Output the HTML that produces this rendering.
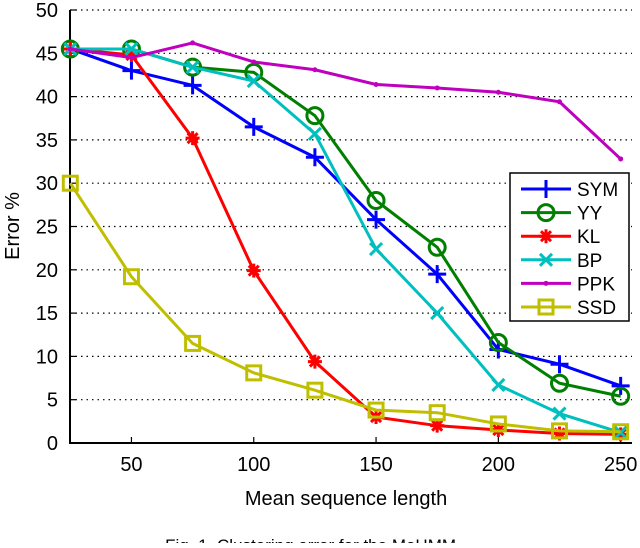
<!DOCTYPE html>
<html><head><meta charset="utf-8"><style>
body{margin:0;background:#fff;width:640px;height:543px;overflow:hidden}
text{font-family:"Liberation Sans",Arial,sans-serif}
</style></head><body>
<svg id="chart" width="640" height="543" xmlns="http://www.w3.org/2000/svg"></svg>
<script>
const xCats=[25,50,75,100,125,150,175,200,225,250];
const sym=[45.5,43,41.3,36.5,33,25.8,19.5,10.8,9.1,6.6];
const yy=[45.5,45.5,43.4,42.8,37.8,28,22.6,11.6,6.9,5.4];
const kl=[45.5,44.8,35.2,19.9,9.4,3,2,1.5,1.1,1];
const bp=[45.5,45.5,43.4,41.8,35.7,22.4,15,6.7,3.4,1.2];
const ppk=[45.5,44.5,46.2,44,43.1,41.4,41,40.5,39.4,32.8];
const ssd=[30,19.2,11.5,8.1,6.1,3.8,3.5,2.2,1.4,1.3];
const yTicks=[0,5,10,15,20,25,30,35,40,45,50];
const xTicks=[50,100,150,200,250];
const NS='http://www.w3.org/2000/svg';
const svg=document.getElementById('chart');
const X=v=>70.3+(v-25)*(122.3/50);
const Y=v=>443-v*(433/50);
function el(t,a,p){const e=document.createElementNS(NS,t);for(const k in a)e.setAttribute(k,a[k]);(p||svg).appendChild(e);return e;}
yTicks.forEach(v=>{
 if(v>0){const g=el('line',{x1:70,x2:632,y1:Y(v),y2:Y(v),stroke:'#000','stroke-width':1.2,'stroke-dasharray':'1.5 4'});
 
 }
 const t=el('text',{x:58,y:Y(v)+7,'text-anchor':'end','font-size':20});t.textContent=v;
 
 
 const tk=el('line',{x1:70,x2:76,y1:Y(v),y2:Y(v),stroke:'#000','stroke-width':1.2});
 
 
});
xTicks.forEach(v=>{
 const tk=el('line',{x1:X(v),x2:X(v),y1:443,y2:437,stroke:'#000','stroke-width':1.2});
 
 
 const t=el('text',{x:X(v),y:471,'text-anchor':'middle','font-size':20});t.textContent=v;
 
 
});
const ax=el('path',{d:'M70 10 V443 H632',fill:'none',stroke:'#000','stroke-width':2});


const xl=el('text',{x:346,y:505,'text-anchor':'middle','font-size':20});xl.textContent='Mean sequence length';


const yl=el('text',{x:0,y:0,'text-anchor':'middle','font-size':20,transform:'translate(19,226) rotate(-90)'});yl.textContent='Error %';


const cap=el('text',{x:320,y:551,'text-anchor':'middle','font-size':17,'font-family':'Liberation Serif'});cap.textContent='Fig. 1.  Clustering error for the MoHMM ...';


function marker(g,type,x,y,c){
 const sw=3;
 if(type==='plus'){el('path',{d:`M${x-9} ${y}H${x+9}M${x} ${y-9}V${y+9}`,stroke:c,'stroke-width':sw},g);}
 else if(type==='circle'){el('circle',{cx:x,cy:y,r:8,fill:'none',stroke:c,'stroke-width':sw},g);}
 else if(type==='star'){el('path',{d:`M${x-7} ${y}H${x+7}M${x} ${y-7}V${y+7}M${x-5} ${y-5}L${x+5} ${y+5}M${x-5} ${y+5}L${x+5} ${y-5}`,stroke:c,'stroke-width':sw},g);}
 else if(type==='x'){el('path',{d:`M${x-6} ${y-6}L${x+6} ${y+6}M${x-6} ${y+6}L${x+6} ${y-6}`,stroke:c,'stroke-width':sw},g);}
 else if(type==='dot'){el('circle',{cx:x,cy:y,r:2.5,fill:c},g);}
 else if(type==='square'){el('rect',{x:x-7,y:y-7,width:14,height:14,fill:'none',stroke:c,'stroke-width':sw},g);}
}
const series=[
 {n:'SYM',d:sym,c:'#0000ff',m:'plus'},
 {n:'YY',d:yy,c:'#007f00',m:'circle'},
 {n:'KL',d:kl,c:'#ff0000',m:'star'},
 {n:'BP',d:bp,c:'#00bfbf',m:'x'},
 {n:'PPK',d:ppk,c:'#bf00bf',m:'dot'},
 {n:'SSD',d:ssd,c:'#bfbf00',m:'square'}
];
series.forEach(s=>{
 const g=el('g',{});
 
 
 el('polyline',{points:s.d.map((v,i)=>X(xCats[i])+','+Y(v)).join(' '),fill:'none',stroke:s.c,'stroke-width':3},g);
 s.d.forEach((v,i)=>marker(g,s.m,X(xCats[i]),Y(v),s.c));
});
const lg=el('g',{});


el('rect',{x:510,y:173,width:119,height:148,fill:'#fff',stroke:'#000','stroke-width':1.5},lg);
series.forEach((s,i)=>{
 const y=189+i*23.6;
 const e=el('g',{},lg);
 
 
 el('line',{x1:521,x2:571,y1:y,y2:y,stroke:s.c,'stroke-width':3},e);
 marker(e,s.m,546,y,s.c);
 const t=el('text',{x:577,y:y+7,'font-size':19},e);t.textContent=s.n;
});
</script>
</body></html>
